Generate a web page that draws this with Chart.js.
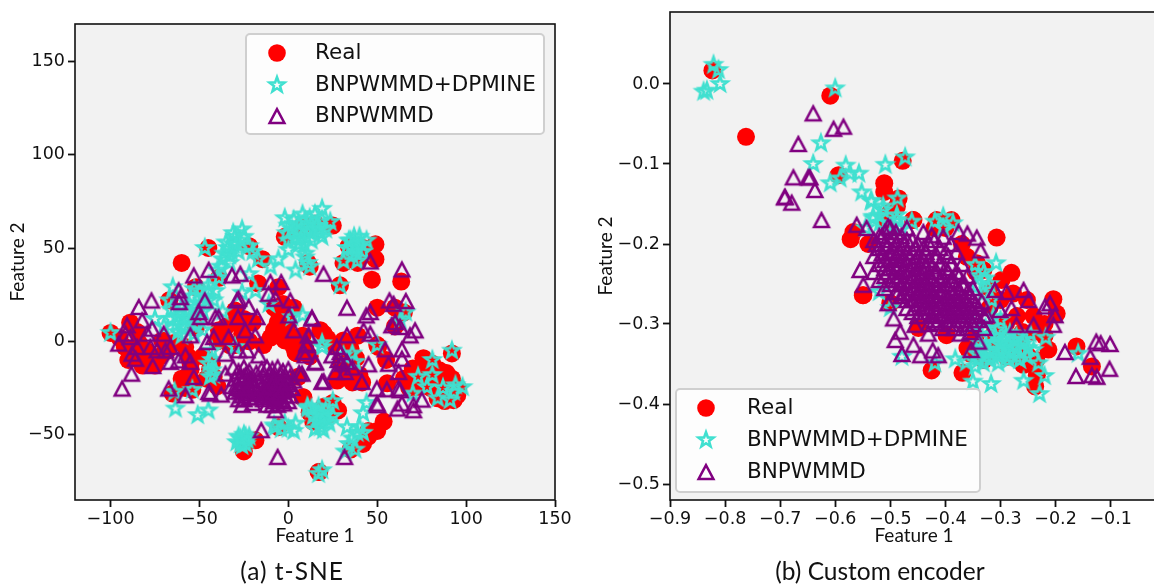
<!DOCTYPE html>
<html><head><meta charset="utf-8">
<script src="https://cdn.jsdelivr.net/npm/chart.js@4"></script>
<style>
html,body{margin:0;padding:0;background:#fff;width:1154px;height:585px;overflow:hidden;position:relative}
.panel{position:absolute;top:0;height:585px}
#pa{left:0;width:580px}
#pb{left:580px;width:578px}
.cap{position:absolute;top:556px;font-family:Lato,sans-serif;font-size:24.5px;line-height:30px;color:#111;white-space:nowrap;transform:translateX(-50%)}
</style></head><body>
<div class="panel" id="pa"><canvas id="ca" width="580" height="585"></canvas></div>
<div class="panel" id="pb"><canvas id="cb" width="578" height="585"></canvas></div>
<div class="cap" style="left:292px;letter-spacing:1px">(a) t-SNE</div>
<div class="cap" style="left:880px">(b) Custom encoder</div>
<script>
const seriesNames=["Real","BNPWMMD+DPMINE","BNPWMMD"];
const axisX="Feature 1",axisY="Feature 2";
const tsneXTicks=[-100,-50,0,50,100,150];
const tsneYTicks=[-50,0,50,100,150];
const encXTicks=[-0.9,-0.8,-0.7,-0.6,-0.5,-0.4,-0.3,-0.2,-0.1];
const encYTicks=[0,-0.1,-0.2,-0.3,-0.4,-0.5];

const tsneReal=[[-60,42],[-45,50],[-22,51],[-14.6,44],[-2,56],[11,42],[-100,4.5],[-89,10],[-92,-3],[-78,-10],[-84,-1],[-71,0.5],[-56,-8.5],[-57,-19],[-52,7.5],[-58,-3],[-43,-12],[-42,-19],[-65,-28],[-54,-26],[-39,6],[-30,16.5],[-20,10],[-26,4],[-6,10],[0,4],[-2,0.5],[5,-6.5],[5.6,-19],[8,-30],[14,-41],[-5.6,-46],[-25,-59],[-18.5,-53],[17,-70],[-52,29],[-67,22],[-5.6,29],[-17,31],[-39,34],[25,62],[34,51],[49,52],[49,44],[31,42],[39,42],[12,40],[47,33],[63.5,32],[29,30],[50,18],[65,15.5],[18,6],[22,1.5],[39,3],[31,0.5],[50,-2],[38,-9],[27.5,-21],[36,-22],[41.5,-22],[8.5,-30],[25,-33],[25,-37],[14,-43],[23.6,-39],[53.6,-43],[45,-51],[35,-58],[17.4,-70],[76,-9],[70,-14.5],[92,-6.5],[81,-12],[89,-17],[85,-15.5],[95.5,-25],[93,-31.5],[84,-30.5],[72,-24.5],[78,-21],[91,-22.5],[73,-19],[87,-26],[68.5,-19],[55.6,-22.5],[50.5,-3],[36,-17],[9.5,-3],[15,63],[8,62],[-33,-2],[-10,2],[-14,-2],
[-95,2],[-88,-7],[-85,5],[-80,-5],[-75,-13],[-72,-8],[-68,-5],[-65,-1],[-90,-10],[-82,-13],[-55,-15],[-53,-22],[-60,-20],[-58,-25],[-55,-12],[-30,10],[-35,8],[-25,12],[-22,0],[-30,-2],[-40,0],[-36,2],[-3,5],[3,-3],[8,3],[4,-6],[-8,6],[12,-8],[-5,12],[0,10],[75,-20],[80,-25],[85,-22],[90,-28],[82,-16],[76,-13],[88,-32],[95,-29],[92,-20],[72,-15],[68,-25],[65,-20],[42,50],[38,47],[45,48],[18,-40],[28,-37],[20,-35],[12,-38],[30,-12],[28,-20],[34,-18],[40,-18],[45,-48],[50,-48],[42,-55],[-48,-8],[-44,-15],[-40,-24],[-46,-20],[20,4],[25,-2],[35,-4],[60,18],[60,8],[55,-10],[-8,18],[-3,20],[3,18]];
const tsneStar=[[-47,50],[-31,52],[-37,44],[-26,60],[-30,56],[-34,50],[-28,48],[-33,46],[-22,51],[-17,44],[-5.6,44],[0,49],[-2,66],[9.5,65],[15,68],[11,59],[5,59],[5.6,63],[18,58],[11,42],[9.5,47],[2,60],[7,55],[13,63],[19,71],[19,65],[12,59],[9.5,45],[19,56],[23.6,64],[-63,13],[-60,8],[-56,16],[-66,17],[-50,20],[-55,24],[-45,27],[-62,5],[-58,12],[-53,13],[-48,24],[-52,18],[-67,22],[-65,29],[-100,4.5],[-41,27],[-39,34],[-45,22],[-22,36],[-18.5,27],[-11,20],[2,13],[8,14],[19,-3],[-63.5,-36],[-51,-39.5],[-45,-37],[-43,-15.5],[-45,-12],[-44,-19],[-54,-26],[-64,-27],[-26,-53],[-28,-51],[-24,-55],[-22,-51],[-27,-55],[-7.3,-46],[0,-46.7],[4,-44],[11,-36],[17,-38.5],[18,-44],[15,-47],[17,-71],[19,-69],[-30,-3],[-43,-5],[37.6,52],[35,54],[40,56],[44,54],[37.6,48],[31,43],[38.8,43],[29,30],[12,40],[66,15.5],[63,11],[92,-5],[81,-10],[73,-19],[81,-18],[78,-24.5],[84,-30.5],[91,-31.5],[87,-25],[94,-23.5],[98,-24.5],[93,-27],[19,-1],[31,-7.5],[37.6,-11],[50,-2],[25,-32],[10.7,-35],[19,-38.5],[16,-42],[22,-42],[19.7,-47.6],[33,-46],[38.8,-49],[42,-49],[32,-59],[37.6,-58],[44,-33],[42,-38.5],[70,-28],[36,-6.5],[-20,48],[-10,40],[-26,26],[4,38],[-37,16],[-70,8],[-75,12],
[3,65],[7,60],[0,62],[10,56],[12,66],[14,60],[16,62],[8,68],[4,55],[6,52],[9,52],[13,54],[17,60],[21,60],[-1,58],[0,54],[33,50],[36,50],[39,50],[41,52],[34,54],[37,56],[42,48],[36,46],[-35,53],[-32,48],[-29,52],[-27,54],[-31,58],[-25,56],[-36,47],[-38,40],[-40,38],[-33,42],[-58,16],[-60,18],[-55,11],[-52,9],[-48,16],[-56,20],[-63,9],[-66,12],[-50,27],[-45,30],[-53,28],[-42,22],[-58,7],[-53,4],[-25,-50],[-29,-54],[-23,-53],[-26,-56],[-24,-51],[-27,-52],[20,-40],[14,-40],[18,-46],[23,-44],[17,-35],[21,-37],[13,-36],[25,-40],[-8,-45],[-4,-47],[-2,-44],[3,-48],[36,-52],[34,-55],[40,-46],[-43,-10],[-42,-18],[-60,3],[-48,6]];
const tsneTri=[[-93.5,-25.3],[-88.2,-17.3],[-84.1,18.4],[-77,21.9],[-82.2,11.2],[-90.7,8.6],[-91.6,4.1],[-95.4,-1.2],[-88.8,2.3],[-85,-3],[-87.9,-6.6],[-86,-9.3],[-79.4,4.1],[-76.6,6.8],[-70.1,4.1],[-77.6,-3],[-76.3,-13.2],[-73.8,-4.8],[-69.1,-4.8],[-66.3,-3],[-66.3,-11],[-61.7,-10.2],[-57.9,-7.5],[-55.1,-11],[-53.2,-19.1],[-55.1,3.2],[-45.7,-0.4],[-50.4,15.7],[-49.5,13],[-47,21.9],[-41,13],[-39.2,13],[-42,2.3],[-33.6,2.3],[-35.4,-6.6],[-35.4,-17.3],[-28.9,21.9],[-28,22.8],[-31.7,35.3],[-27,36.2],[-53.2,35.3],[-44.8,38.3],[-61.7,27.3],[-60.7,23.7],[-61.3,21],[-10.1,31.7],[-4,31.7],[-11.1,25.5],[-7.3,22.8],[1.1,21.9],[0.2,13.9],[3,5.9],[13.3,12.1],[11.4,3.2],[10.4,-1.2],[9.5,-7.5],[15.1,-11],[18.9,-21.7],[6.1,-17],[-28.3,13],[-22.3,18.4],[-17.6,13],[-18.6,3.2],[-24.2,5.9],[-27.9,-4.8],[-23.3,-4.8],[-16.7,-7.5],[-67.3,-25.3],[-57.9,-28.9],[-44.8,-27.1],[-43.9,-28],[-37.7,-28.5],[-15.2,-47.6],[-6,-61.9],[-7.3,-36.9],[-2.7,-33.3],
[-31,-14],[-28,-16],[-25,-14],[-22,-16],[-30,-20],[-27,-19],[-24,-18],[-21,-20],[-18,-17],[-15,-15],[-12,-14],[-9,-15],[-6,-14],[-3,-16],[0,-15],[-32,-24],[-29,-23],[-26,-22],[-23,-24],[-20,-23],[-17,-21],[-14,-19],[-11,-18],[-8,-19],[-5,-18],[-2,-20],[1,-19],[-30,-27],[-27,-26],[-24,-28],[-21,-27],[-18,-26],[-15,-24],[-12,-23],[-9,-23],[-6,-22],[-3,-24],[0,-23],[3,-21],[-28,-31],[-25,-31],[-22,-30],[-19,-30],[-16,-28],[-13,-27],[-10,-27],[-7,-26],[-4,-27],[-1,-26],[2,-25],[-26,-34],[-14,-31],[-11,-30],[-8,-30],[-5,-31],[-2,-29],[1,-29],[-12,-34],[-9,-34],[-6,-34],[-3,-32],[0,-32],[-20,-33],
[-13,-25],[-11,-21],[-10,-25],[-8,-21],[-7,-24],[-6,-28],[-4,-22],[-3,-26],[-1,-22],[-14,-29],[-12,-27],[-9,-29],[-8,-32],[-5,-29],[-26,-29],[-24,-25],[-23,-21],[-28,-25],[-25,-19],[-22,-25],
[19.8,36.2],[46.1,42.8],[63.9,38.5],[33,18],[13.3,12.7],[46.1,15.7],[43.8,13.9],[56.9,21.9],[59.2,20.1],[66.1,21.6],[60.1,10.3],[58.2,8.6],[62.9,7.7],[71.3,5.9],[68.5,3.2],[42.3,5.9],[46.1,4.1],[33,3.2],[11.4,3.2],[10.5,-2.1],[8.6,-5.7],[27.3,-3],[24.5,-7.5],[29.2,-5.7],[54.5,-4.3],[63.9,-4.3],[63.9,-9.3],[56.4,-12],[62,-16.4],[45.1,-12.3],[33,-11],[32,-16.4],[26.4,-16.4],[15.2,-11.4],[19.9,-21.4],[41.4,-21.7],[7.7,-17.3],[49.8,-25.3],[55.4,-25.7],[62,-25.3],[62.9,-26.2],[75.1,-31.2],[70.4,-34.2],[70.4,-36.9],[63.9,-33.3],[61.4,-36],[49.8,-33.3],[50.2,-34.2],[31.6,-61.9],[30,-12],[28,-10],[36,-14]];

const encReal=[[-0.823,0.017],[-0.609,-0.0146],[-0.762,-0.066],[-0.4775,-0.096],[-0.594,-0.114],[-0.511,-0.124],[-0.511,-0.135],[-0.485,-0.143],[-0.459,-0.17],[-0.567,-0.185],[-0.572,-0.194],[-0.55,-0.264],[-0.5,-0.16],[-0.307,-0.192],[-0.28,-0.236],[-0.458,-0.17],[-0.416,-0.17],[-0.389,-0.17],[-0.549,-0.264],[-0.204,-0.269],[-0.213,-0.332],[-0.162,-0.328],[-0.134,-0.353],[-0.425,-0.358],[-0.369,-0.361],[-0.234,-0.364],[-0.237,-0.378],[-0.258,-0.351],[-0.343,-0.224],[-0.331,-0.2325],[-0.298,-0.245],[-0.277,-0.262],[-0.198,-0.287],[-0.252,-0.27],[-0.313,-0.324],[-0.289,-0.341],[-0.265,-0.328],[-0.301,-0.3075],[-0.398,-0.314],[-0.449,-0.305],[-0.5,-0.274],[-0.361,-0.216],[-0.488,-0.153],[-0.507,-0.17],[-0.355,-0.337],[-0.29,-0.3],[-0.24,-0.31],[-0.32,-0.28],
[-0.27,-0.29],[-0.26,-0.31],[-0.24,-0.29],[-0.22,-0.3],[-0.3,-0.27],[-0.31,-0.31],[-0.28,-0.33],[-0.25,-0.34],[-0.26,-0.35],[-0.33,-0.345],[-0.4,-0.18],[-0.42,-0.18],[-0.37,-0.2],[-0.54,-0.2],[-0.36,-0.33],[-0.345,-0.315],[-0.3,-0.335],[-0.235,-0.345],[-0.22,-0.315],[-0.32,-0.255],[-0.345,-0.235]];
const encStar=[[-0.821,0.024],[-0.812,0.0175],[-0.809,0],[-0.839,-0.0096],[-0.833,-0.0083],[-0.6,-0.0054],[-0.626,-0.074],[-0.64,-0.1],[-0.609,-0.124],[-0.591,-0.118],[-0.581,-0.102],[-0.573,-0.112],[-0.557,-0.112],[-0.552,-0.1354],[-0.535,-0.146],[-0.509,-0.101],[-0.473,-0.0917],[-0.487,-0.143],[-0.513,-0.1575],[-0.531,-0.168],[-0.488,-0.164],[-0.461,-0.172],[-0.519,-0.174],[-0.494,-0.176],[-0.534,-0.147],[-0.513,-0.153],[-0.488,-0.17],[-0.531,-0.166],[-0.419,-0.172],[-0.404,-0.166],[-0.404,-0.18],[-0.386,-0.174],[-0.346,-0.226],[-0.308,-0.224],[-0.328,-0.243],[-0.343,-0.253],[-0.218,-0.317],[-0.159,-0.337],[-0.22,-0.365],[-0.229,-0.3875],[-0.231,-0.349],[-0.258,-0.371],[-0.317,-0.375],[-0.35,-0.372],[-0.362,-0.348],[-0.382,-0.344],[-0.419,-0.349],[-0.479,-0.341],[-0.304,-0.349],[-0.331,-0.349],[-0.346,-0.353],[-0.313,-0.324],[-0.295,-0.32],[-0.277,-0.328],[-0.258,-0.32],[-0.24,-0.3325],[-0.271,-0.341],[-0.289,-0.341],[-0.283,-0.3117],[-0.252,-0.341],[-0.313,-0.341],[-0.325,-0.3325],[-0.301,-0.3325],[-0.271,-0.316],[-0.246,-0.312],[-0.307,-0.3075],[-0.316,-0.27],[-0.331,-0.262],[-0.313,-0.291],[-0.337,-0.324],[-0.343,-0.337],[-0.328,-0.341],[-0.285,-0.326],[-0.262,-0.334],[-0.295,-0.336],[-0.32,-0.316],[-0.35,-0.3],[-0.3,-0.295],[-0.327,-0.305],[-0.52,-0.26],[-0.5,-0.28],
[-0.335,-0.33],[-0.32,-0.335],[-0.305,-0.34],[-0.29,-0.33],[-0.28,-0.335],[-0.27,-0.33],[-0.26,-0.325],[-0.25,-0.33],[-0.31,-0.315],[-0.29,-0.315],[-0.265,-0.345],[-0.3,-0.325],[-0.32,-0.345],[-0.275,-0.32],[-0.285,-0.345],[-0.34,-0.345],[-0.33,-0.235],[-0.32,-0.25],[-0.34,-0.24],[-0.545,-0.18],[-0.52,-0.165],[-0.48,-0.18]];
const encTri=[[-0.64,-0.0367],[-0.603,-0.056],[-0.585,-0.0533],[-0.667,-0.075],[-0.676,-0.1167],[-0.646,-0.1167],[-0.649,-0.1167],[-0.637,-0.1325],[-0.692,-0.1417],[-0.679,-0.1483],[-0.691,-0.141],[-0.625,-0.17],[-0.561,-0.176],[-0.543,-0.18],[-0.504,-0.178],[-0.555,-0.2325],[-0.549,-0.251],
[-0.36,-0.187],[-0.343,-0.192],[-0.336,-0.208],[-0.376,-0.185],[-0.425,-0.189],[-0.404,-0.191],[-0.31,-0.2575],[-0.289,-0.26],[-0.258,-0.2575],[-0.249,-0.27],[-0.219,-0.278],[-0.21,-0.274],[-0.201,-0.289],[-0.204,-0.301],[-0.24,-0.301],[-0.271,-0.301],[-0.28,-0.28],[-0.301,-0.2825],[-0.334,-0.272],[-0.325,-0.289],[-0.34,-0.322],[-0.353,-0.3325],[-0.183,-0.335],[-0.126,-0.322],[-0.118,-0.324],[-0.101,-0.325],[-0.137,-0.341],[-0.163,-0.365],[-0.125,-0.366],[-0.134,-0.364],[-0.102,-0.356],[-0.479,-0.3375],[-0.491,-0.32],[-0.482,-0.3096],[-0.458,-0.326],[-0.445,-0.339],[-0.423,-0.333],[-0.413,-0.339],[-0.431,-0.312],[-0.494,-0.293],[-0.504,-0.274],[-0.455,-0.301],[-0.373,-0.312],[-0.385,-0.305],[-0.355,-0.31],
[-0.53,-0.195],[-0.53,-0.215],[-0.53,-0.235],[-0.52,-0.19],[-0.52,-0.205],[-0.52,-0.225],[-0.52,-0.245],[-0.51,-0.185],[-0.51,-0.2],[-0.51,-0.22],[-0.51,-0.24],[-0.51,-0.255],[-0.5,-0.18],[-0.5,-0.195],[-0.5,-0.21],[-0.5,-0.23],[-0.5,-0.25],[-0.49,-0.185],[-0.49,-0.2],[-0.49,-0.215],[-0.49,-0.23],[-0.49,-0.245],[-0.49,-0.26],[-0.48,-0.19],[-0.48,-0.205],[-0.48,-0.22],[-0.48,-0.235],[-0.48,-0.25],[-0.48,-0.265],[-0.47,-0.18],[-0.47,-0.195],[-0.47,-0.21],[-0.47,-0.225],[-0.47,-0.24],[-0.47,-0.255],[-0.47,-0.27],[-0.46,-0.195],[-0.46,-0.21],[-0.46,-0.225],[-0.46,-0.24],[-0.46,-0.255],[-0.46,-0.27],[-0.45,-0.2],[-0.45,-0.215],[-0.45,-0.23],[-0.45,-0.245],[-0.45,-0.26],[-0.45,-0.275],[-0.45,-0.29],[-0.44,-0.185],[-0.44,-0.205],[-0.44,-0.22],[-0.44,-0.235],[-0.44,-0.25],[-0.44,-0.265],[-0.44,-0.28],[-0.43,-0.2],[-0.43,-0.22],[-0.43,-0.24],[-0.43,-0.255],[-0.43,-0.27],[-0.43,-0.285],[-0.42,-0.195],[-0.42,-0.215],[-0.42,-0.235],[-0.42,-0.25],[-0.42,-0.265],[-0.42,-0.28],[-0.42,-0.295],[-0.41,-0.205],[-0.41,-0.225],[-0.41,-0.245],[-0.41,-0.26],[-0.41,-0.275],[-0.41,-0.29],[-0.4,-0.21],[-0.4,-0.23],[-0.4,-0.25],[-0.4,-0.265],[-0.4,-0.28],[-0.4,-0.295],[-0.39,-0.2],[-0.39,-0.225],[-0.39,-0.245],[-0.39,-0.26],[-0.39,-0.275],[-0.39,-0.29],[-0.38,-0.21],[-0.38,-0.235],[-0.38,-0.255],[-0.38,-0.27],[-0.38,-0.285],[-0.38,-0.3],[-0.37,-0.225],[-0.37,-0.25],[-0.37,-0.265],[-0.37,-0.28],[-0.37,-0.295],[-0.36,-0.24],[-0.36,-0.26],[-0.36,-0.275],[-0.36,-0.29],[-0.35,-0.255],[-0.35,-0.27],[-0.35,-0.285],[-0.34,-0.28],[-0.34,-0.295],[-0.33,-0.29],[-0.33,-0.305],
[-0.525,-0.2],[-0.515,-0.212],[-0.505,-0.203],[-0.495,-0.208],[-0.485,-0.212],[-0.475,-0.218],[-0.465,-0.232],[-0.455,-0.222],[-0.445,-0.242],[-0.435,-0.248],[-0.425,-0.258],[-0.415,-0.268],[-0.405,-0.272],[-0.395,-0.268],[-0.385,-0.278],[-0.375,-0.272],[-0.365,-0.283],[-0.355,-0.278],[-0.345,-0.29],[-0.505,-0.235],[-0.495,-0.24],[-0.485,-0.245],[-0.475,-0.248],[-0.465,-0.262],[-0.455,-0.268],[-0.445,-0.258],[-0.435,-0.278],[-0.425,-0.288],[-0.415,-0.298],[-0.405,-0.305],[-0.395,-0.3],[-0.385,-0.295],[-0.515,-0.19],[-0.495,-0.19],[-0.475,-0.2],[-0.455,-0.205],[-0.435,-0.21],[-0.415,-0.215],[-0.395,-0.215],[-0.375,-0.24],[-0.365,-0.25],[-0.355,-0.265],
[-0.495,-0.225],[-0.485,-0.228],[-0.475,-0.232],[-0.465,-0.217],[-0.465,-0.247],[-0.455,-0.237],[-0.455,-0.252],[-0.445,-0.228],[-0.445,-0.27],[-0.435,-0.23],[-0.435,-0.262],[-0.425,-0.243],[-0.425,-0.272],[-0.415,-0.252],[-0.415,-0.283],[-0.405,-0.258],[-0.405,-0.287],[-0.395,-0.283],[-0.385,-0.262],[-0.375,-0.288],[-0.365,-0.268],[-0.355,-0.295],[-0.345,-0.275],[-0.475,-0.262],[-0.485,-0.26],[-0.455,-0.28],[-0.44,-0.29],[-0.43,-0.3],[-0.395,-0.235],[-0.405,-0.24],[-0.385,-0.245],[-0.375,-0.258],[-0.415,-0.235],[-0.425,-0.228],[-0.5,-0.218],[-0.51,-0.23],[-0.47,-0.28],[-0.46,-0.285],[-0.35,-0.3],[-0.36,-0.305]];

const RED="#ff0000",TURQ="#40e0d0",PURP="#800080";
function makeStar(){
  const c=document.createElement("canvas");c.width=c.height=28;const g=c.getContext("2d");
  g.translate(14,14);g.beginPath();
  for(let i=0;i<10;i++){const r=i%2?3.2:7.8,a=-Math.PI/2+i*Math.PI/5;g[i?"lineTo":"moveTo"](r*Math.cos(a),r*Math.sin(a));}
  g.closePath();g.lineWidth=2.6;g.strokeStyle=TURQ;g.lineJoin="miter";g.stroke();return c;
}
function makeTri(){
  const c=document.createElement("canvas");c.width=c.height=28;const g=c.getContext("2d");
  g.translate(14,14);g.beginPath();g.moveTo(0,-6.8);g.lineTo(-7.4,7);g.lineTo(7.4,7);g.closePath();
  g.lineWidth=2.5;g.strokeStyle=PURP;g.lineJoin="miter";g.stroke();return c;
}
const starImg=makeStar(),triImg=makeTri();
const pts=a=>a.map(p=>({x:p[0],y:p[1]}));
const minus=s=>String(s).replace("-","\u2212");
const frame={id:"frame",
  beforeDraw(ch){const a=ch.chartArea,g=ch.ctx;g.save();g.fillStyle="#f2f2f2";g.fillRect(a.left,a.top,a.width,a.height);g.restore();},
  afterDatasetsDraw(ch,_,o){const a=ch.chartArea,g=ch.ctx;g.save();
    g.strokeStyle="#111";g.lineWidth=1.6;g.strokeRect(a.left,a.top,a.width,a.height);
    const L=o.box;g.beginPath();g.roundRect(L[0],L[1],L[2],L[3],4);g.fillStyle="rgba(255,255,255,0.8)";g.fill();g.strokeStyle="#cfcfcf";g.lineWidth=2;g.stroke();
    g.fillStyle=RED;g.beginPath();g.arc(o.mx,o.rows[0],8.8,0,Math.PI*2);g.fill();
    g.drawImage(starImg,o.mx-14,o.rows[1]-14);g.drawImage(triImg,o.mx-14,o.rows[2]-14);
    g.fillStyle="#111";g.font="21.5px 'DejaVu Sans'";g.textBaseline="middle";g.textAlign="left";
    seriesNames.forEach((n,i)=>g.fillText(n,o.tx,o.rows[i]+0.5));
    g.restore();}
};
function build(id,real,star,tri,r,xT,yT,fmtX,fmtY,pad,yW,yTitlePad,leg){
  new Chart(document.getElementById(id),{type:"scatter",
    data:{datasets:[
      {label:seriesNames[0],data:pts(real),order:3,pointStyle:"circle",pointRadius:9,pointBackgroundColor:RED,pointBorderWidth:0},
      {label:seriesNames[1],data:pts(star),order:2,pointStyle:starImg,pointRadius:9},
      {label:seriesNames[2],data:pts(tri),order:1,pointStyle:triImg,pointRadius:9}]},
    options:{responsive:false,animation:false,layout:{padding:pad,autoPadding:false},
      plugins:{legend:{display:false},tooltip:{enabled:false},frame:leg},
      scales:{
        x:{type:"linear",min:r[0],max:r[1],afterFit:s=>{s.height=85;s.paddingLeft=0;s.paddingRight=0;},afterBuildTicks:s=>{s.ticks=xT.map(v=>({value:v}));},
          grid:{drawOnChartArea:false,drawTicks:true,tickLength:7,tickColor:"#111",tickWidth:1.8},border:{display:false},
          ticks:{autoSkip:false,maxRotation:0,padding:2,color:"#111",font:{family:"DejaVu Sans",size:17.5},callback:fmtX},
          title:{display:true,text:axisX,color:"#111",font:{family:"Lato",size:19},padding:{top:0,bottom:38}}},
        y:{type:"linear",min:r[2],max:r[3],afterFit:s=>{s.width=yW;s.paddingTop=0;s.paddingBottom=0;},afterBuildTicks:s=>{s.ticks=yT.map(v=>({value:v}));},
          grid:{drawOnChartArea:false,drawTicks:true,tickLength:7,tickColor:"#111",tickWidth:1.8},border:{display:false},
          ticks:{autoSkip:false,padding:3,color:"#111",font:{family:"DejaVu Sans",size:17.5},callback:fmtY},
          title:{display:true,text:axisY,color:"#111",font:{family:"Lato",size:19},padding:{top:yTitlePad,bottom:0}}}
      }},
    plugins:[frame]});
}
build("ca",tsneReal,tsneStar,tsneTri,[-120,150,-85,170],tsneXTicks,tsneYTicks,v=>minus(v),v=>minus(v),
  {top:24,right:25,bottom:0,left:0},75,6,{box:[246,34,298,100],mx:277,tx:315,rows:[53,85,116]});
build("cb",encReal,encStar,encTri,[-0.9,-0.014,-0.52,0.09],encXTicks,encYTicks,v=>minus(v.toFixed(1)),v=>minus(v.toFixed(1)),
  {top:12,right:0,bottom:0,left:0},90,14,{box:[96,389,304,103],mx:126,tx:167,rows:[408,440,472]});
</script>
</body></html>
